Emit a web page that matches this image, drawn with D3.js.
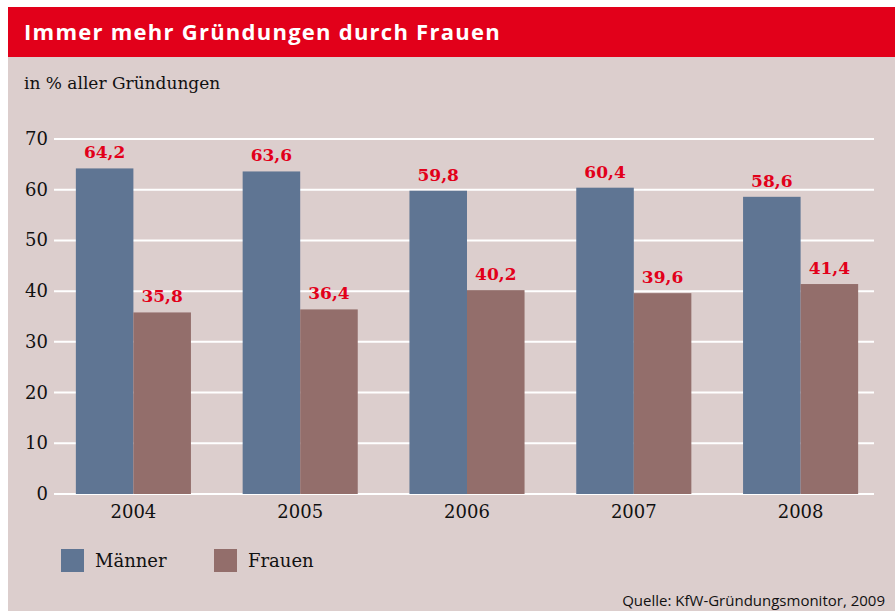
<!DOCTYPE html>
<html>
<head>
<meta charset="utf-8">
<script src="https://cdn.jsdelivr.net/npm/d3@7"></script>
<style>
  body { margin: 0; background: #fff; }
  svg { display: block; }
</style>
</head>
<body>
<div id="chart"></div>
<script>
const years = ["2004", "2005", "2006", "2007", "2008"];
const maenner = [64.2, 63.6, 59.8, 60.4, 58.6];
const frauen = [35.8, 36.4, 40.2, 39.6, 41.4];
const seriesNames = ["Männer", "Frauen"];
const seriesColors = ["#5f7593", "#936e6b"];
const yTicks = [0, 10, 20, 30, 40, 50, 60, 70];

let width = 895,
    height = 611;

const serif = "'DejaVu Serif', serif";
const sans = "'Open Sans', sans-serif";

let svg = d3.select("#chart")
    .append("svg")
    .attr("width", width)
    .attr("height", height);

// panel + header
svg.append("rect").attr("x", 8).attr("y", 7).attr("width", width - 8).attr("height", height - 7).attr("fill", "#dccecd");
svg.append("rect").attr("x", 8).attr("y", 7).attr("width", width - 8).attr("height", 50).attr("fill", "#e2001a");

svg.append("text")
    .attr("x", 24).attr("y", 40)
    .attr("fill", "#fff")
    .style("font-family", sans)
    .style("font-weight", 700)
    .style("font-size", "22px")
    .style("letter-spacing", "1.25px")
    .text("Immer mehr Gründungen durch Frauen");

svg.append("text")
    .attr("x", 24).attr("y", 89)
    .attr("fill", "#111")
    .style("font-family", serif)
    .style("font-size", "17px")
    .text("in % aller Gründungen");

let x = d3.scaleBand()
    .domain(years)
    .range([50, 884])
    .paddingInner(0.31)
    .paddingOuter(0.155);

let xs = d3.scaleBand()
    .domain(seriesNames)
    .range([0, x.bandwidth()]);

let y = d3.scaleLinear()
    .domain([0, 70])
    .range([494, 139]);

// gridlines
svg.append("g")
    .selectAll("line")
    .data(yTicks)
    .join("line")
    .attr("x1", 54).attr("x2", 874)
    .attr("y1", d => y(d)).attr("y2", d => y(d))
    .attr("stroke", "#fff")
    .attr("stroke-width", 2);

// y labels
svg.append("g")
    .selectAll("text")
    .data(yTicks)
    .join("text")
    .attr("x", 48)
    .attr("y", d => y(d) + 6)
    .attr("text-anchor", "end")
    .attr("fill", "#111")
    .style("font-family", serif)
    .style("font-size", "18px")
    .text(d => d);

let rows = years.map((yr, i) => ({ year: yr, values: [maenner[i], frauen[i]] }));

let groups = svg.append("g")
    .selectAll("g")
    .data(rows)
    .join("g")
    .attr("transform", d => `translate(${x(d.year)},0)`);

groups.selectAll("rect")
    .data(d => d.values.map((v, j) => ({ name: seriesNames[j], v: v, j: j })))
    .join("rect")
    .attr("x", d => xs(d.name))
    .attr("width", xs.bandwidth())
    .attr("y", d => y(d.v))
    .attr("height", d => y(0) - y(d.v))
    .attr("fill", d => seriesColors[d.j]);

groups.selectAll("text.val")
    .data(d => d.values.map((v, j) => ({ name: seriesNames[j], v: v })))
    .join("text")
    .attr("class", "val")
    .attr("x", d => xs(d.name) + xs.bandwidth() / 2)
    .attr("y", d => y(d.v) - 10)
    .attr("text-anchor", "middle")
    .attr("fill", "#e2001a")
    .style("font-family", serif)
    .style("font-weight", 700)
    .style("font-size", "17px")
    .text(d => d3.format(".1f")(d.v).replace(".", ","));

// x labels
svg.append("g")
    .selectAll("text")
    .data(years)
    .join("text")
    .attr("x", d => x(d) + x.bandwidth() / 2)
    .attr("y", 518)
    .attr("text-anchor", "middle")
    .attr("fill", "#111")
    .style("font-family", serif)
    .style("font-size", "18px")
    .text(d => d);

// legend
let legend = svg.append("g")
    .selectAll("g")
    .data(seriesNames)
    .join("g")
    .attr("transform", (d, i) => `translate(${61 + i * 153},549)`);

legend.append("rect")
    .attr("width", 23).attr("height", 23)
    .attr("fill", (d, i) => seriesColors[i]);

legend.append("text")
    .attr("x", 34).attr("y", 18)
    .attr("fill", "#111")
    .style("font-family", serif)
    .style("font-size", "18px")
    .text(d => d);

svg.append("text")
    .attr("x", 885).attr("y", 606)
    .attr("text-anchor", "end")
    .attr("fill", "#111")
    .style("font-family", sans)
    .style("font-size", "15px")
    .text("Quelle: KfW-Gründungsmonitor, 2009");
</script>
</body>
</html>
